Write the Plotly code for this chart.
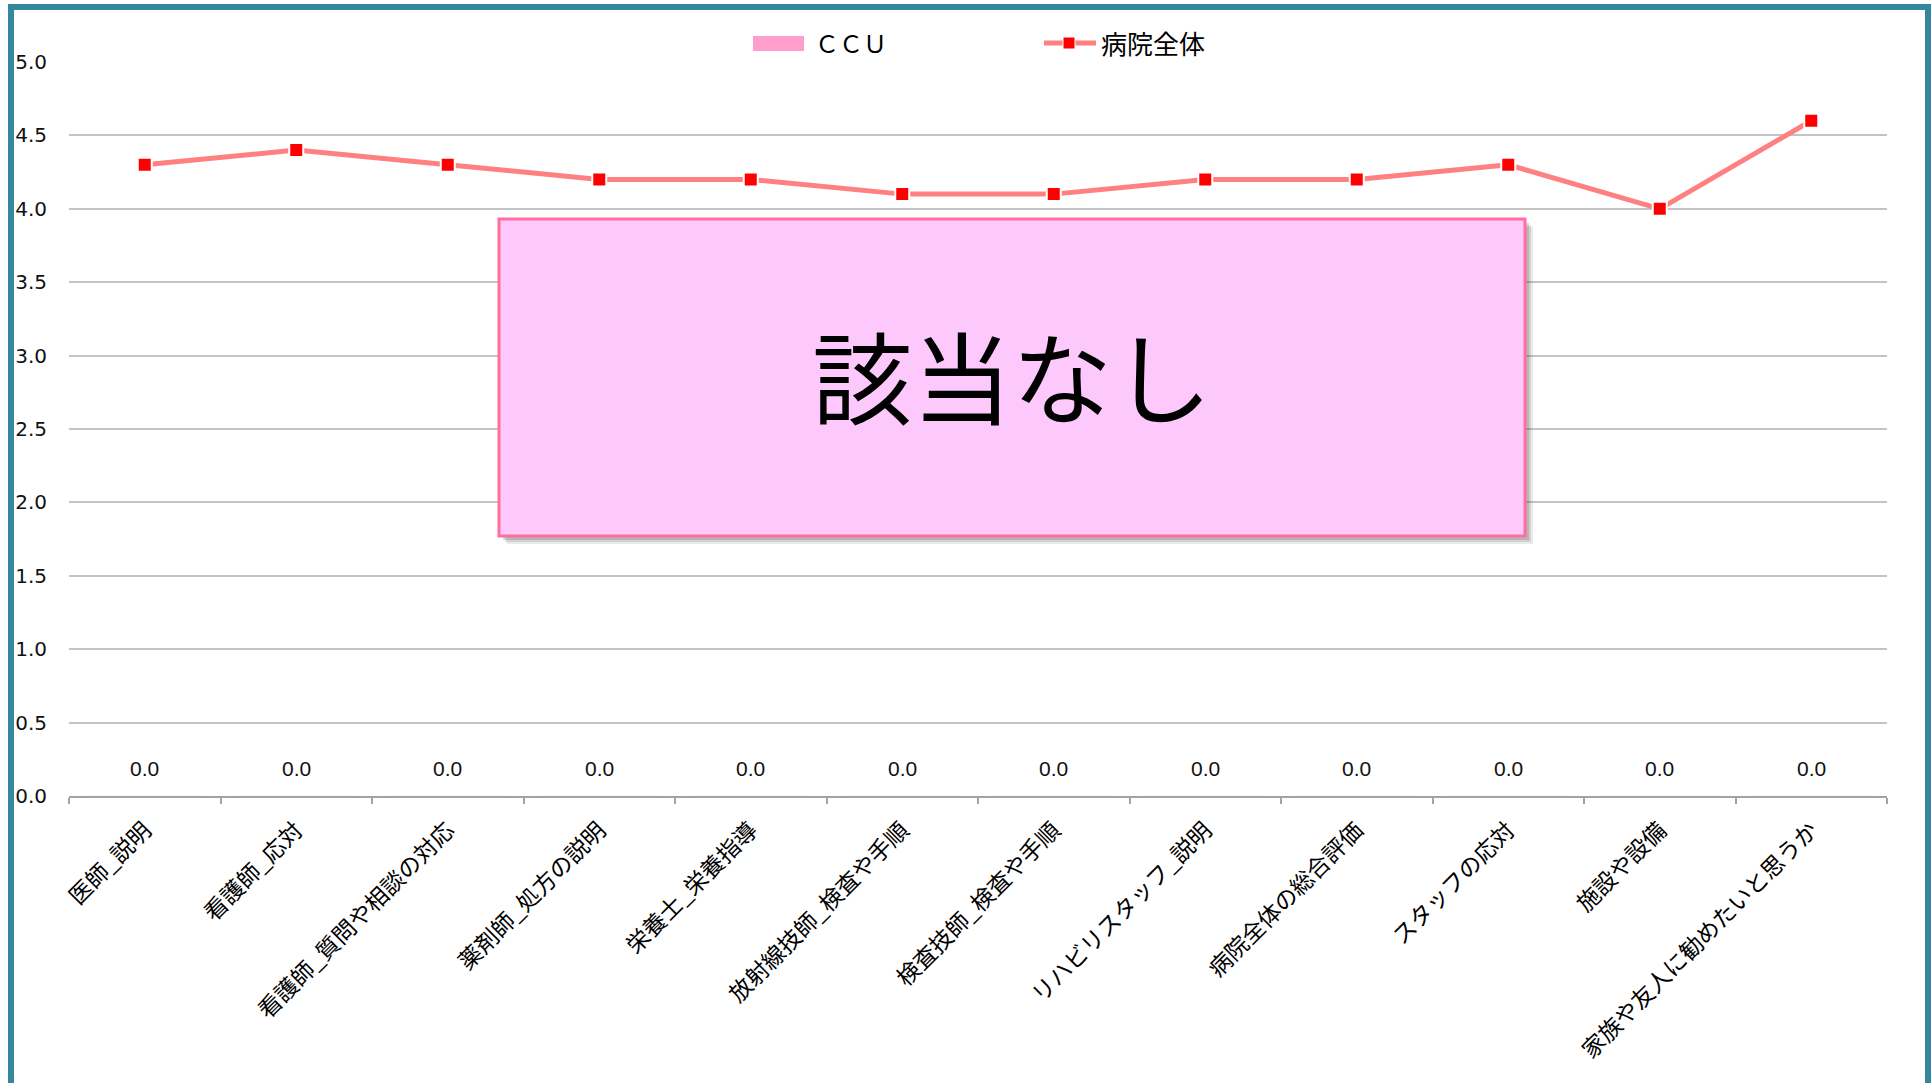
import plotly.graph_objects as go

# ---- data ----
categories = [
    "医師_説明", "看護師_応対", "看護師_質問や相談の対応", "薬剤師_処方の説明",
    "栄養士_栄養指導", "放射線技師_検査や手順", "検査技師_検査や手順",
    "リハビリスタッフ_説明", "病院全体の総合評価", "スタッフの応対",
    "施設や設備", "家族や友人に勧めたいと思うか",
]
ccu_name = "ＣＣＵ"
ccu_values = [0.0] * 12
hospital_name = "病院全体"
hospital_values = [4.3, 4.4, 4.3, 4.2, 4.2, 4.1, 4.1, 4.2, 4.2, 4.3, 4.0, 4.6]
y_ticks = [0.0, 0.5, 1.0, 1.5, 2.0, 2.5, 3.0, 3.5, 4.0, 4.5, 5.0]
note_text = "該当なし"

# ---- page geometry (pixels) ----
W, H = 1931, 1083
ML, MR, MT, MB = 69, 44, 62, 287
PW, PH = W - ML - MR, H - MT - MB


def px(x):
    return (x - ML) / PW


def py(y):
    return (H - MB - y) / PH


CJK = "Noto Sans CJK JP"

fig = go.Figure()

fig.add_trace(go.Bar(
    x=categories, y=ccu_values, name=ccu_name,
    marker=dict(color="#FF9ECC"), showlegend=False, hoverinfo="x+y",
))
fig.add_trace(go.Scatter(
    x=categories, y=hospital_values, name=hospital_name, mode="lines+markers",
    line=dict(color="#FF8080", width=5),
    marker=dict(symbol="square", size=14, color="#FF0000",
                line=dict(color="white", width=2)),
    showlegend=False,
))

annotations = []
# value labels for the CCU bars
for c, v in zip(categories, ccu_values):
    annotations.append(dict(
        x=c, y=v, xref="x", yref="y", text=f"{v:.1f}", showarrow=False,
        yshift=28, font=dict(family="Liberation Sans", size=21, color="#111111"),
    ))

shapes = []
# outer frame
shapes.append(dict(type="rect", xref="paper", yref="paper",
                   x0=px(11), x1=px(1928), y0=py(1100), y1=py(7),
                   line=dict(color="#35879E", width=6), fillcolor="rgba(0,0,0,0)",
                   layer="below"))

# custom legend
shapes.append(dict(type="rect", xref="paper", yref="paper",
                   x0=px(753), x1=px(804), y0=py(51), y1=py(36),
                   line=dict(width=0), fillcolor="#FF9ECC"))
annotations.append(dict(xref="paper", yref="paper", x=px(813), y=py(43),
                        xanchor="left", yanchor="middle", showarrow=False,
                        text=ccu_name, font=dict(family=CJK, size=24, color="black")))
shapes.append(dict(type="line", xref="paper", yref="paper",
                   x0=px(1044), x1=px(1096), y0=py(43), y1=py(43),
                   line=dict(color="#FF8080", width=5)))
shapes.append(dict(type="rect", xref="paper", yref="paper",
                   x0=px(1063), x1=px(1075), y0=py(49), y1=py(37),
                   line=dict(color="white", width=1), fillcolor="#FF0000"))
annotations.append(dict(xref="paper", yref="paper", x=px(1099), y=py(42),
                        xanchor="left", yanchor="middle", showarrow=False,
                        text=hospital_name, font=dict(family=CJK, size=26, color="black")))

# "no data" panel with drop shadow
bx0, bx1, by0, by1 = 499, 1525, 219, 536
for off, alpha in [(8, 0.10), (6, 0.14), (4, 0.18)]:
    shapes.append(dict(type="rect", xref="paper", yref="paper",
                       x0=px(bx0 + off), x1=px(bx1 + off), y0=py(by1 + off), y1=py(by0 + off),
                       line=dict(width=0), fillcolor=f"rgba(60,60,60,{alpha})"))
shapes.append(dict(type="rect", xref="paper", yref="paper",
                   x0=px(bx0), x1=px(bx1), y0=py(by1), y1=py(by0),
                   line=dict(color="#FF6E9E", width=3), fillcolor="#FDC9FD"))
annotations.append(dict(xref="paper", yref="paper", x=px((bx0 + bx1) / 2), y=py((by0 + by1) / 2 - 4),
                        xanchor="center", yanchor="middle", showarrow=False,
                        text=note_text, font=dict(family=CJK, size=100, color="black")))

fig.update_layout(
    width=W, height=H,
    margin=dict(l=ML, r=MR, t=MT, b=MB, autoexpand=False),
    paper_bgcolor="white", plot_bgcolor="white",
    showlegend=False,
    shapes=shapes, annotations=annotations,
    xaxis=dict(
        type="category", range=[-0.5, 11.5],
        showline=True, linecolor="#A3A3A3", linewidth=1.5,
        ticks="outside", ticklen=6, tickcolor="#A3A3A3", tickwidth=1.5,
        tickson="boundaries", showgrid=False,
        tickangle=-45, ticklabelstandoff=10,
        tickfont=dict(family=CJK, size=23, color="black"),
    ),
    yaxis=dict(
        range=[0, 5], tickvals=y_ticks, ticktext=[f"{t:.1f}" for t in y_ticks],
        showgrid=True, gridcolor="#C4C4C4", gridwidth=1.5,
        zeroline=False, showline=False, ticks="",
        ticklabelstandoff=21,
        tickfont=dict(family="DejaVu Sans", size=20, color="#111111"),
    ),
)

fig.write_html("out.html")
